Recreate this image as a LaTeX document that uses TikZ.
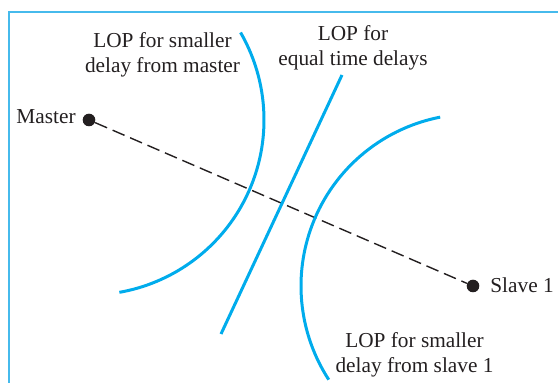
\documentclass[tikz,border=0pt]{standalone}
\usepackage{fontspec}
\setmainfont{Liberation Serif}
\usepackage{xcolor}
\usetikzlibrary{positioning}
\definecolor{lopblue}{RGB}{0,172,236}
\definecolor{framebl}{RGB}{70,186,236}
\definecolor{ink}{RGB}{35,31,32}

\begin{document}
\begin{tikzpicture}[x=0.5pt, y=0.5pt, every node/.style={font=\fontsize{10.65}{12.5}\selectfont, text=ink, inner sep=0pt}, lbl/.style={align=center, anchor=north}, dot/.style={circle, fill=ink, minimum size=6.3pt}, lop/.style={lopblue, line width=1.5pt}, ray/.style={ink, line width=0.7pt, dash pattern=on 6.5pt off 3pt}]
\useasboundingbox (0,0) rectangle (558,383);
\draw[framebl, line width=0.6pt] (9,0) -- (9,371) -- (558,371);
\node[dot] (master) at (89,263) {};
\node[dot] (slave) at (473,97) {};
\node[anchor=base east] (mlab) at (76,259) {Master};
\node[anchor=base west] (slab) at (490,90) {Slave 1};
\draw[ray] (master) -- (slave);
% lines of position
\draw[lop] ([shift={(30:175)}]master.center) arc[start angle=30, end angle=-80, radius=175];
\draw[lop] ([shift={(101:172)}]slave.center) arc[start angle=101, end angle=213, radius=172];
\coordinate (eqtop) at (342,308);
\coordinate (eqbot) at (221,49);
\draw[lop] (eqtop) -- (eqbot);
\node[lbl] (mtext) at (162.5,350.6) {LOP for smaller\\delay from master};
\node[lbl] (etext) at (353,357.6) {LOP for\\equal time delays};
\node[lbl] (stext) at (414.5,50.6) {LOP for smaller\\delay from slave 1};
\end{tikzpicture}
\end{document}
